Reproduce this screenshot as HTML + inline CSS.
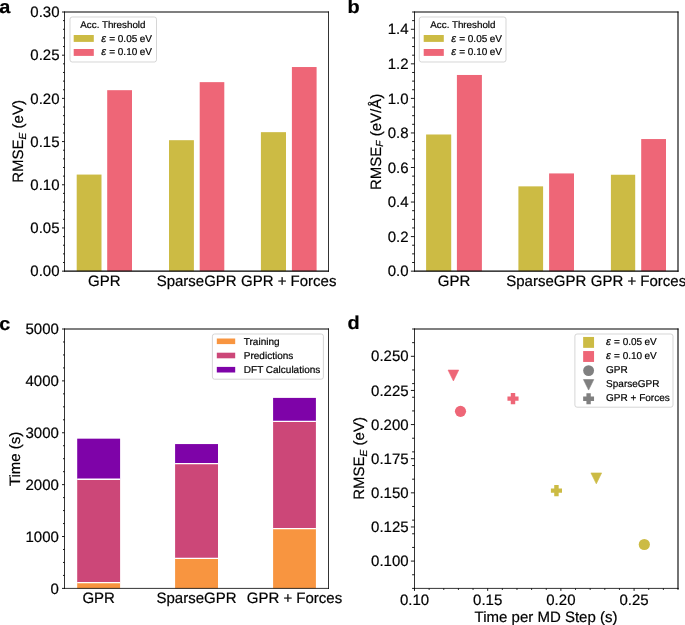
<!DOCTYPE html>
<html><head><meta charset="utf-8"><style>
html,body{margin:0;padding:0;background:#fff;overflow:hidden;width:685px;height:625px;}
svg{display:block;font-family:"Liberation Sans", sans-serif;will-change:transform;}
text{fill:#000;text-rendering:geometricPrecision;stroke:#000;stroke-width:0.2px;}
</style></head><body>
<svg width="685" height="625" viewBox="0 0 685 625">
<rect width="685" height="625" fill="#fff"/>
<rect x="76.70" y="174.57" width="24.80" height="96.58" fill="#CCBB44" />
<rect x="107.20" y="90.18" width="24.80" height="180.97" fill="#EE6677" />
<rect x="169.00" y="140.19" width="24.90" height="130.96" fill="#CCBB44" />
<rect x="199.70" y="82.14" width="24.60" height="189.01" fill="#EE6677" />
<rect x="260.90" y="132.16" width="25.10" height="138.99" fill="#CCBB44" />
<rect x="291.90" y="67.03" width="24.70" height="204.12" fill="#EE6677" />
<rect x="426.10" y="134.49" width="25.10" height="136.66" fill="#CCBB44" />
<rect x="456.90" y="74.97" width="25.00" height="196.18" fill="#EE6677" />
<rect x="518.40" y="186.36" width="24.70" height="84.79" fill="#CCBB44" />
<rect x="549.10" y="173.42" width="24.90" height="97.73" fill="#EE6677" />
<rect x="610.90" y="174.75" width="24.30" height="96.40" fill="#CCBB44" />
<rect x="641.20" y="139.05" width="24.80" height="132.10" fill="#EE6677" />
<rect x="77.20" y="582.69" width="42.90" height="5.71" fill="#F89540" />
<rect x="77.20" y="479.24" width="42.90" height="103.45" fill="#CC4778" />
<rect x="77.20" y="438.67" width="42.90" height="40.57" fill="#7E03A8" />
<line x1="77.20" y1="582.69" x2="120.10" y2="582.69" stroke="#ffffff" stroke-width="1.3"/>
<line x1="77.20" y1="479.24" x2="120.10" y2="479.24" stroke="#ffffff" stroke-width="1.3"/>
<rect x="175.10" y="558.47" width="42.90" height="29.93" fill="#F89540" />
<rect x="175.10" y="463.63" width="42.90" height="94.84" fill="#CC4778" />
<rect x="175.10" y="444.07" width="42.90" height="19.56" fill="#7E03A8" />
<line x1="175.10" y1="558.47" x2="218.00" y2="558.47" stroke="#ffffff" stroke-width="1.3"/>
<line x1="175.10" y1="463.63" x2="218.00" y2="463.63" stroke="#ffffff" stroke-width="1.3"/>
<rect x="273.10" y="528.53" width="42.80" height="59.87" fill="#F89540" />
<rect x="273.10" y="421.45" width="42.80" height="107.08" fill="#CC4778" />
<rect x="273.10" y="397.90" width="42.80" height="23.55" fill="#7E03A8" />
<line x1="273.10" y1="528.53" x2="315.90" y2="528.53" stroke="#ffffff" stroke-width="1.3"/>
<line x1="273.10" y1="421.45" x2="315.90" y2="421.45" stroke="#ffffff" stroke-width="1.3"/>
<line x1="64.10" y1="12.00" x2="329.00" y2="12.00" stroke="#000000" stroke-width="1.1"/>
<line x1="64.10" y1="271.15" x2="329.00" y2="271.15" stroke="#000000" stroke-width="1.1"/>
<line x1="64.50" y1="11.50" x2="64.50" y2="271.65" stroke="#000000" stroke-width="0.8"/>
<line x1="328.50" y1="11.50" x2="328.50" y2="271.65" stroke="#000000" stroke-width="0.8"/>
<line x1="414.10" y1="12.00" x2="678.50" y2="12.00" stroke="#000000" stroke-width="1.1"/>
<line x1="414.10" y1="271.15" x2="678.50" y2="271.15" stroke="#000000" stroke-width="1.1"/>
<line x1="414.50" y1="11.50" x2="414.50" y2="271.65" stroke="#000000" stroke-width="0.8"/>
<line x1="678.00" y1="11.50" x2="678.00" y2="271.65" stroke="#000000" stroke-width="1.1"/>
<line x1="64.10" y1="329.00" x2="329.00" y2="329.00" stroke="#000000" stroke-width="1.1"/>
<line x1="64.10" y1="588.40" x2="329.00" y2="588.40" stroke="#000000" stroke-width="0.8"/>
<line x1="64.50" y1="328.50" x2="64.50" y2="588.90" stroke="#000000" stroke-width="0.8"/>
<line x1="328.50" y1="328.50" x2="328.50" y2="588.90" stroke="#000000" stroke-width="0.8"/>
<line x1="414.10" y1="329.00" x2="678.50" y2="329.00" stroke="#000000" stroke-width="1.1"/>
<line x1="414.10" y1="588.40" x2="678.50" y2="588.40" stroke="#000000" stroke-width="0.8"/>
<line x1="414.50" y1="328.50" x2="414.50" y2="588.90" stroke="#000000" stroke-width="0.8"/>
<line x1="678.00" y1="328.50" x2="678.00" y2="588.90" stroke="#000000" stroke-width="1.1"/>
<line x1="63.00" y1="262.51" x2="64.50" y2="262.51" stroke="#000000" stroke-width="0.9"/>
<line x1="63.00" y1="253.87" x2="64.50" y2="253.87" stroke="#000000" stroke-width="0.9"/>
<line x1="63.00" y1="245.23" x2="64.50" y2="245.23" stroke="#000000" stroke-width="0.9"/>
<line x1="63.00" y1="236.60" x2="64.50" y2="236.60" stroke="#000000" stroke-width="0.9"/>
<line x1="63.00" y1="219.32" x2="64.50" y2="219.32" stroke="#000000" stroke-width="0.9"/>
<line x1="63.00" y1="210.68" x2="64.50" y2="210.68" stroke="#000000" stroke-width="0.9"/>
<line x1="63.00" y1="202.04" x2="64.50" y2="202.04" stroke="#000000" stroke-width="0.9"/>
<line x1="63.00" y1="193.40" x2="64.50" y2="193.40" stroke="#000000" stroke-width="0.9"/>
<line x1="63.00" y1="176.13" x2="64.50" y2="176.13" stroke="#000000" stroke-width="0.9"/>
<line x1="63.00" y1="167.49" x2="64.50" y2="167.49" stroke="#000000" stroke-width="0.9"/>
<line x1="63.00" y1="158.85" x2="64.50" y2="158.85" stroke="#000000" stroke-width="0.9"/>
<line x1="63.00" y1="150.21" x2="64.50" y2="150.21" stroke="#000000" stroke-width="0.9"/>
<line x1="63.00" y1="132.94" x2="64.50" y2="132.94" stroke="#000000" stroke-width="0.9"/>
<line x1="63.00" y1="124.30" x2="64.50" y2="124.30" stroke="#000000" stroke-width="0.9"/>
<line x1="63.00" y1="115.66" x2="64.50" y2="115.66" stroke="#000000" stroke-width="0.9"/>
<line x1="63.00" y1="107.02" x2="64.50" y2="107.02" stroke="#000000" stroke-width="0.9"/>
<line x1="63.00" y1="89.74" x2="64.50" y2="89.74" stroke="#000000" stroke-width="0.9"/>
<line x1="63.00" y1="81.11" x2="64.50" y2="81.11" stroke="#000000" stroke-width="0.9"/>
<line x1="63.00" y1="72.47" x2="64.50" y2="72.47" stroke="#000000" stroke-width="0.9"/>
<line x1="63.00" y1="63.83" x2="64.50" y2="63.83" stroke="#000000" stroke-width="0.9"/>
<line x1="63.00" y1="46.55" x2="64.50" y2="46.55" stroke="#000000" stroke-width="0.9"/>
<line x1="63.00" y1="37.91" x2="64.50" y2="37.91" stroke="#000000" stroke-width="0.9"/>
<line x1="63.00" y1="29.28" x2="64.50" y2="29.28" stroke="#000000" stroke-width="0.9"/>
<line x1="63.00" y1="20.64" x2="64.50" y2="20.64" stroke="#000000" stroke-width="0.9"/>
<line x1="62.00" y1="271.15" x2="64.50" y2="271.15" stroke="#000000" stroke-width="0.9"/>
<text x="59.50" y="276.30" font-size="15" text-anchor="end" >0.00</text>
<line x1="62.00" y1="227.96" x2="64.50" y2="227.96" stroke="#000000" stroke-width="0.9"/>
<text x="59.50" y="233.11" font-size="15" text-anchor="end" >0.05</text>
<line x1="62.00" y1="184.77" x2="64.50" y2="184.77" stroke="#000000" stroke-width="0.9"/>
<text x="59.50" y="189.92" font-size="15" text-anchor="end" >0.10</text>
<line x1="62.00" y1="141.57" x2="64.50" y2="141.57" stroke="#000000" stroke-width="0.9"/>
<text x="59.50" y="146.72" font-size="15" text-anchor="end" >0.15</text>
<line x1="62.00" y1="98.38" x2="64.50" y2="98.38" stroke="#000000" stroke-width="0.9"/>
<text x="59.50" y="103.53" font-size="15" text-anchor="end" >0.20</text>
<line x1="62.00" y1="55.19" x2="64.50" y2="55.19" stroke="#000000" stroke-width="0.9"/>
<text x="59.50" y="60.34" font-size="15" text-anchor="end" >0.25</text>
<line x1="62.00" y1="12.00" x2="64.50" y2="12.00" stroke="#000000" stroke-width="0.9"/>
<text x="59.50" y="17.15" font-size="15" text-anchor="end" >0.30</text>
<line x1="412.10" y1="262.51" x2="414.50" y2="262.51" stroke="#000000" stroke-width="0.9"/>
<line x1="412.10" y1="253.87" x2="414.50" y2="253.87" stroke="#000000" stroke-width="0.9"/>
<line x1="412.10" y1="245.23" x2="414.50" y2="245.23" stroke="#000000" stroke-width="0.9"/>
<line x1="412.10" y1="227.96" x2="414.50" y2="227.96" stroke="#000000" stroke-width="0.9"/>
<line x1="412.10" y1="219.32" x2="414.50" y2="219.32" stroke="#000000" stroke-width="0.9"/>
<line x1="412.10" y1="210.68" x2="414.50" y2="210.68" stroke="#000000" stroke-width="0.9"/>
<line x1="412.10" y1="193.40" x2="414.50" y2="193.40" stroke="#000000" stroke-width="0.9"/>
<line x1="412.10" y1="184.77" x2="414.50" y2="184.77" stroke="#000000" stroke-width="0.9"/>
<line x1="412.10" y1="176.13" x2="414.50" y2="176.13" stroke="#000000" stroke-width="0.9"/>
<line x1="412.10" y1="158.85" x2="414.50" y2="158.85" stroke="#000000" stroke-width="0.9"/>
<line x1="412.10" y1="150.21" x2="414.50" y2="150.21" stroke="#000000" stroke-width="0.9"/>
<line x1="412.10" y1="141.57" x2="414.50" y2="141.57" stroke="#000000" stroke-width="0.9"/>
<line x1="412.10" y1="124.30" x2="414.50" y2="124.30" stroke="#000000" stroke-width="0.9"/>
<line x1="412.10" y1="115.66" x2="414.50" y2="115.66" stroke="#000000" stroke-width="0.9"/>
<line x1="412.10" y1="107.02" x2="414.50" y2="107.02" stroke="#000000" stroke-width="0.9"/>
<line x1="412.10" y1="89.74" x2="414.50" y2="89.74" stroke="#000000" stroke-width="0.9"/>
<line x1="412.10" y1="81.11" x2="414.50" y2="81.11" stroke="#000000" stroke-width="0.9"/>
<line x1="412.10" y1="72.47" x2="414.50" y2="72.47" stroke="#000000" stroke-width="0.9"/>
<line x1="412.10" y1="55.19" x2="414.50" y2="55.19" stroke="#000000" stroke-width="0.9"/>
<line x1="412.10" y1="46.55" x2="414.50" y2="46.55" stroke="#000000" stroke-width="0.9"/>
<line x1="412.10" y1="37.91" x2="414.50" y2="37.91" stroke="#000000" stroke-width="0.9"/>
<line x1="412.10" y1="20.64" x2="414.50" y2="20.64" stroke="#000000" stroke-width="0.9"/>
<line x1="412.10" y1="12.00" x2="414.50" y2="12.00" stroke="#000000" stroke-width="0.9"/>
<line x1="410.90" y1="271.15" x2="414.50" y2="271.15" stroke="#000000" stroke-width="0.9"/>
<text x="408.60" y="276.30" font-size="15" text-anchor="end" >0.0</text>
<line x1="410.90" y1="236.60" x2="414.50" y2="236.60" stroke="#000000" stroke-width="0.9"/>
<text x="408.60" y="241.75" font-size="15" text-anchor="end" >0.2</text>
<line x1="410.90" y1="202.04" x2="414.50" y2="202.04" stroke="#000000" stroke-width="0.9"/>
<text x="408.60" y="207.19" font-size="15" text-anchor="end" >0.4</text>
<line x1="410.90" y1="167.49" x2="414.50" y2="167.49" stroke="#000000" stroke-width="0.9"/>
<text x="408.60" y="172.64" font-size="15" text-anchor="end" >0.6</text>
<line x1="410.90" y1="132.94" x2="414.50" y2="132.94" stroke="#000000" stroke-width="0.9"/>
<text x="408.60" y="138.09" font-size="15" text-anchor="end" >0.8</text>
<line x1="410.90" y1="98.38" x2="414.50" y2="98.38" stroke="#000000" stroke-width="0.9"/>
<text x="408.60" y="103.53" font-size="15" text-anchor="end" >1.0</text>
<line x1="410.90" y1="63.83" x2="414.50" y2="63.83" stroke="#000000" stroke-width="0.9"/>
<text x="408.60" y="68.98" font-size="15" text-anchor="end" >1.2</text>
<line x1="410.90" y1="29.28" x2="414.50" y2="29.28" stroke="#000000" stroke-width="0.9"/>
<text x="408.60" y="34.43" font-size="15" text-anchor="end" >1.4</text>
<line x1="63.00" y1="575.43" x2="64.50" y2="575.43" stroke="#000000" stroke-width="0.9"/>
<line x1="63.00" y1="562.46" x2="64.50" y2="562.46" stroke="#000000" stroke-width="0.9"/>
<line x1="63.00" y1="549.49" x2="64.50" y2="549.49" stroke="#000000" stroke-width="0.9"/>
<line x1="63.00" y1="523.55" x2="64.50" y2="523.55" stroke="#000000" stroke-width="0.9"/>
<line x1="63.00" y1="510.58" x2="64.50" y2="510.58" stroke="#000000" stroke-width="0.9"/>
<line x1="63.00" y1="497.61" x2="64.50" y2="497.61" stroke="#000000" stroke-width="0.9"/>
<line x1="63.00" y1="471.67" x2="64.50" y2="471.67" stroke="#000000" stroke-width="0.9"/>
<line x1="63.00" y1="458.70" x2="64.50" y2="458.70" stroke="#000000" stroke-width="0.9"/>
<line x1="63.00" y1="445.73" x2="64.50" y2="445.73" stroke="#000000" stroke-width="0.9"/>
<line x1="63.00" y1="419.79" x2="64.50" y2="419.79" stroke="#000000" stroke-width="0.9"/>
<line x1="63.00" y1="406.82" x2="64.50" y2="406.82" stroke="#000000" stroke-width="0.9"/>
<line x1="63.00" y1="393.85" x2="64.50" y2="393.85" stroke="#000000" stroke-width="0.9"/>
<line x1="63.00" y1="367.91" x2="64.50" y2="367.91" stroke="#000000" stroke-width="0.9"/>
<line x1="63.00" y1="354.94" x2="64.50" y2="354.94" stroke="#000000" stroke-width="0.9"/>
<line x1="63.00" y1="341.97" x2="64.50" y2="341.97" stroke="#000000" stroke-width="0.9"/>
<line x1="62.00" y1="588.40" x2="64.50" y2="588.40" stroke="#000000" stroke-width="0.9"/>
<text x="58.90" y="593.55" font-size="15" text-anchor="end" >0</text>
<line x1="62.00" y1="536.52" x2="64.50" y2="536.52" stroke="#000000" stroke-width="0.9"/>
<text x="58.90" y="541.67" font-size="15" text-anchor="end" >1000</text>
<line x1="62.00" y1="484.64" x2="64.50" y2="484.64" stroke="#000000" stroke-width="0.9"/>
<text x="58.90" y="489.79" font-size="15" text-anchor="end" >2000</text>
<line x1="62.00" y1="432.76" x2="64.50" y2="432.76" stroke="#000000" stroke-width="0.9"/>
<text x="58.90" y="437.91" font-size="15" text-anchor="end" >3000</text>
<line x1="62.00" y1="380.88" x2="64.50" y2="380.88" stroke="#000000" stroke-width="0.9"/>
<text x="58.90" y="386.03" font-size="15" text-anchor="end" >4000</text>
<line x1="62.00" y1="329.00" x2="64.50" y2="329.00" stroke="#000000" stroke-width="0.9"/>
<text x="58.90" y="334.15" font-size="15" text-anchor="end" >5000</text>
<line x1="412.10" y1="588.40" x2="414.50" y2="588.40" stroke="#000000" stroke-width="0.9"/>
<line x1="412.10" y1="574.75" x2="414.50" y2="574.75" stroke="#000000" stroke-width="0.9"/>
<line x1="412.10" y1="547.44" x2="414.50" y2="547.44" stroke="#000000" stroke-width="0.9"/>
<line x1="412.10" y1="533.79" x2="414.50" y2="533.79" stroke="#000000" stroke-width="0.9"/>
<line x1="412.10" y1="520.14" x2="414.50" y2="520.14" stroke="#000000" stroke-width="0.9"/>
<line x1="412.10" y1="506.48" x2="414.50" y2="506.48" stroke="#000000" stroke-width="0.9"/>
<line x1="412.10" y1="479.18" x2="414.50" y2="479.18" stroke="#000000" stroke-width="0.9"/>
<line x1="412.10" y1="465.53" x2="414.50" y2="465.53" stroke="#000000" stroke-width="0.9"/>
<line x1="412.10" y1="451.87" x2="414.50" y2="451.87" stroke="#000000" stroke-width="0.9"/>
<line x1="412.10" y1="438.22" x2="414.50" y2="438.22" stroke="#000000" stroke-width="0.9"/>
<line x1="412.10" y1="410.92" x2="414.50" y2="410.92" stroke="#000000" stroke-width="0.9"/>
<line x1="412.10" y1="397.26" x2="414.50" y2="397.26" stroke="#000000" stroke-width="0.9"/>
<line x1="412.10" y1="383.61" x2="414.50" y2="383.61" stroke="#000000" stroke-width="0.9"/>
<line x1="412.10" y1="369.96" x2="414.50" y2="369.96" stroke="#000000" stroke-width="0.9"/>
<line x1="412.10" y1="342.65" x2="414.50" y2="342.65" stroke="#000000" stroke-width="0.9"/>
<line x1="412.10" y1="329.00" x2="414.50" y2="329.00" stroke="#000000" stroke-width="0.9"/>
<line x1="410.90" y1="561.09" x2="414.50" y2="561.09" stroke="#000000" stroke-width="0.9"/>
<text x="408.60" y="566.24" font-size="15" text-anchor="end" >0.100</text>
<line x1="410.90" y1="526.96" x2="414.50" y2="526.96" stroke="#000000" stroke-width="0.9"/>
<text x="408.60" y="532.11" font-size="15" text-anchor="end" >0.125</text>
<line x1="410.90" y1="492.83" x2="414.50" y2="492.83" stroke="#000000" stroke-width="0.9"/>
<text x="408.60" y="497.98" font-size="15" text-anchor="end" >0.150</text>
<line x1="410.90" y1="458.70" x2="414.50" y2="458.70" stroke="#000000" stroke-width="0.9"/>
<text x="408.60" y="463.85" font-size="15" text-anchor="end" >0.175</text>
<line x1="410.90" y1="424.57" x2="414.50" y2="424.57" stroke="#000000" stroke-width="0.9"/>
<text x="408.60" y="429.72" font-size="15" text-anchor="end" >0.200</text>
<line x1="410.90" y1="390.44" x2="414.50" y2="390.44" stroke="#000000" stroke-width="0.9"/>
<text x="408.60" y="395.59" font-size="15" text-anchor="end" >0.225</text>
<line x1="410.90" y1="356.31" x2="414.50" y2="356.31" stroke="#000000" stroke-width="0.9"/>
<text x="408.60" y="361.46" font-size="15" text-anchor="end" >0.250</text>
<line x1="429.14" y1="588.40" x2="429.14" y2="589.90" stroke="#000000" stroke-width="0.9"/>
<line x1="443.78" y1="588.40" x2="443.78" y2="589.90" stroke="#000000" stroke-width="0.9"/>
<line x1="458.42" y1="588.40" x2="458.42" y2="589.90" stroke="#000000" stroke-width="0.9"/>
<line x1="473.06" y1="588.40" x2="473.06" y2="589.90" stroke="#000000" stroke-width="0.9"/>
<line x1="502.33" y1="588.40" x2="502.33" y2="589.90" stroke="#000000" stroke-width="0.9"/>
<line x1="516.97" y1="588.40" x2="516.97" y2="589.90" stroke="#000000" stroke-width="0.9"/>
<line x1="531.61" y1="588.40" x2="531.61" y2="589.90" stroke="#000000" stroke-width="0.9"/>
<line x1="546.25" y1="588.40" x2="546.25" y2="589.90" stroke="#000000" stroke-width="0.9"/>
<line x1="575.53" y1="588.40" x2="575.53" y2="589.90" stroke="#000000" stroke-width="0.9"/>
<line x1="590.17" y1="588.40" x2="590.17" y2="589.90" stroke="#000000" stroke-width="0.9"/>
<line x1="604.81" y1="588.40" x2="604.81" y2="589.90" stroke="#000000" stroke-width="0.9"/>
<line x1="619.44" y1="588.40" x2="619.44" y2="589.90" stroke="#000000" stroke-width="0.9"/>
<line x1="648.72" y1="588.40" x2="648.72" y2="589.90" stroke="#000000" stroke-width="0.9"/>
<line x1="663.36" y1="588.40" x2="663.36" y2="589.90" stroke="#000000" stroke-width="0.9"/>
<line x1="678.00" y1="588.40" x2="678.00" y2="589.90" stroke="#000000" stroke-width="0.9"/>
<line x1="414.50" y1="588.40" x2="414.50" y2="590.90" stroke="#000000" stroke-width="0.9"/>
<text x="414.50" y="604.90" font-size="15" text-anchor="middle" >0.10</text>
<line x1="487.69" y1="588.40" x2="487.69" y2="590.90" stroke="#000000" stroke-width="0.9"/>
<text x="487.69" y="604.90" font-size="15" text-anchor="middle" >0.15</text>
<line x1="560.89" y1="588.40" x2="560.89" y2="590.90" stroke="#000000" stroke-width="0.9"/>
<text x="560.89" y="604.90" font-size="15" text-anchor="middle" >0.20</text>
<line x1="634.08" y1="588.40" x2="634.08" y2="590.90" stroke="#000000" stroke-width="0.9"/>
<text x="634.08" y="604.90" font-size="15" text-anchor="middle" >0.25</text>
<text x="104.35" y="285.80" font-size="15" text-anchor="middle" >GPR</text>
<text x="196.65" y="285.80" font-size="15" text-anchor="middle" >SparseGPR</text>
<text x="288.75" y="285.80" font-size="15" text-anchor="middle" >GPR + Forces</text>
<text x="454.00" y="285.80" font-size="15" text-anchor="middle" >GPR</text>
<text x="546.25" y="285.80" font-size="15" text-anchor="middle" >SparseGPR</text>
<text x="638.45" y="285.80" font-size="15" text-anchor="middle" >GPR + Forces</text>
<text x="98.65" y="603.20" font-size="15" text-anchor="middle" >GPR</text>
<text x="196.55" y="603.20" font-size="15" text-anchor="middle" >SparseGPR</text>
<text x="294.50" y="603.20" font-size="15" text-anchor="middle" >GPR + Forces</text>
<text transform="translate(23.20,141.40) rotate(-90)" font-size="15" text-anchor="middle">RMSE<tspan font-size="10.2" font-style="italic" dy="2.6">E</tspan><tspan dy="-2.6">&#160;(eV)</tspan></text>
<text transform="translate(380.80,141.90) rotate(-90)" font-size="15" text-anchor="middle">RMSE<tspan font-size="10.2" font-style="italic" dy="2.6">F</tspan><tspan dy="-2.6">&#160;(eV/Å)</tspan></text>
<text transform="translate(19.90,458.90) rotate(-90)" font-size="15" text-anchor="middle">Time (s)</text>
<text transform="translate(364.00,458.40) rotate(-90)" font-size="15" text-anchor="middle">RMSE<tspan font-size="10.2" font-style="italic" dy="2.6">E</tspan><tspan dy="-2.6">&#160;(eV)</tspan></text>
<text x="546.00" y="621.70" font-size="15" text-anchor="middle" >Time per MD Step (s)</text>
<text transform="translate(-0.70,12.90) scale(1.07,1)" font-size="18.6" font-weight="bold">a</text>
<text transform="translate(347.60,12.90) scale(1.07,1)" font-size="18.6" font-weight="bold">b</text>
<text transform="translate(-0.70,329.50) scale(1.07,1)" font-size="18.6" font-weight="bold">c</text>
<text transform="translate(347.40,329.10) scale(1.07,1)" font-size="18.6" font-weight="bold">d</text>
<rect x="70.00" y="17.00" width="86.50" height="45.00" rx="2.2" fill="#ffffff" fill-opacity="0.8" stroke="#cccccc" stroke-opacity="0.8" stroke-width="1"/>
<text x="112.90" y="27.70" font-size="9.8" text-anchor="middle" >Acc. Threshold</text>
<rect x="73.70" y="35.00" width="20.10" height="6.90" fill="#CCBB44" />
<rect x="73.70" y="49.00" width="20.10" height="6.90" fill="#EE6677" />
<text x="101.20" y="41.50" font-size="10"><tspan font-style="italic" font-size="11.00">ε</tspan><tspan x="109.20" font-size="10">=</tspan><tspan x="117.80">0.05</tspan><tspan x="139.65">eV</tspan></text>
<text x="101.20" y="55.40" font-size="10"><tspan font-style="italic" font-size="11.00">ε</tspan><tspan x="109.20" font-size="10">=</tspan><tspan x="117.80">0.10</tspan><tspan x="139.65">eV</tspan></text>
<rect x="419.30" y="17.00" width="86.70" height="45.00" rx="2.2" fill="#ffffff" fill-opacity="0.8" stroke="#cccccc" stroke-opacity="0.8" stroke-width="1"/>
<text x="462.90" y="27.70" font-size="9.8" text-anchor="middle" >Acc. Threshold</text>
<rect x="423.70" y="35.00" width="20.10" height="6.90" fill="#CCBB44" />
<rect x="423.70" y="49.00" width="20.10" height="6.90" fill="#EE6677" />
<text x="451.20" y="41.50" font-size="10"><tspan font-style="italic" font-size="11.00">ε</tspan><tspan x="459.20" font-size="10">=</tspan><tspan x="467.80">0.05</tspan><tspan x="489.65">eV</tspan></text>
<text x="451.20" y="55.40" font-size="10"><tspan font-style="italic" font-size="11.00">ε</tspan><tspan x="459.20" font-size="10">=</tspan><tspan x="467.80">0.10</tspan><tspan x="489.65">eV</tspan></text>
<rect x="212.40" y="334.00" width="111.00" height="45.20" rx="2.2" fill="#ffffff" fill-opacity="0.8" stroke="#cccccc" stroke-opacity="0.8" stroke-width="1"/>
<rect x="216.80" y="338.50" width="18.40" height="5.60" fill="#F89540" />
<text x="243.80" y="344.80" font-size="10" text-anchor="start" >Training</text>
<rect x="216.80" y="352.70" width="18.40" height="5.60" fill="#CC4778" />
<text x="243.80" y="358.90" font-size="10" text-anchor="start" >Predictions</text>
<rect x="216.80" y="366.90" width="18.40" height="5.60" fill="#7E03A8" />
<text x="243.80" y="373.00" font-size="10" text-anchor="start" >DFT Calculations</text>
<rect x="574.90" y="334.00" width="98.10" height="73.20" rx="2.2" fill="#ffffff" fill-opacity="0.8" stroke="#cccccc" stroke-opacity="0.8" stroke-width="1"/>
<rect x="583.15" y="336.95" width="10.90" height="10.90" fill="#CCBB44" />
<text x="606.10" y="344.50" font-size="10"><tspan font-style="italic" font-size="11.00">ε</tspan><tspan x="614.10" font-size="10">=</tspan><tspan x="622.70">0.05</tspan><tspan x="644.55">eV</tspan></text>
<rect x="583.15" y="351.05" width="10.90" height="10.90" fill="#EE6677" />
<text x="606.10" y="358.60" font-size="10"><tspan font-style="italic" font-size="11.00">ε</tspan><tspan x="614.10" font-size="10">=</tspan><tspan x="622.70">0.10</tspan><tspan x="644.55">eV</tspan></text>
<text x="606.10" y="372.70" font-size="10" text-anchor="start" >GPR</text>
<text x="606.10" y="386.80" font-size="10" text-anchor="start" >SparseGPR</text>
<text x="606.10" y="400.90" font-size="10" text-anchor="start" >GPR + Forces</text>
<circle cx="588.60" cy="370.60" r="5.45" fill="#808080"/>
<polygon points="583.45,379.55 593.75,379.55 588.60,390.05" fill="#808080" stroke="#808080" stroke-width="0.6" stroke-linejoin="round"/>
<polygon points="586.42,393.35 590.78,393.35 590.78,396.62 594.05,396.62 594.05,400.98 590.78,400.98 590.78,404.25 586.42,404.25 586.42,400.98 583.15,400.98 583.15,396.62 586.42,396.62" fill="#808080"/>
<polygon points="448.05,370.05 458.75,370.05 453.40,380.95" fill="#EE6677" stroke="#EE6677" stroke-width="0.6" stroke-linejoin="round"/>
<circle cx="460.50" cy="411.35" r="5.60" fill="#EE6677"/>
<polygon points="510.78,393.05 515.22,393.05 515.22,396.38 518.55,396.38 518.55,400.82 515.22,400.82 515.22,404.15 510.78,404.15 510.78,400.82 507.45,400.82 507.45,396.38 510.78,396.38" fill="#EE6677"/>
<polygon points="554.23,485.05 558.67,485.05 558.67,488.38 562.00,488.38 562.00,492.82 558.67,492.82 558.67,496.15 554.23,496.15 554.23,492.82 550.90,492.82 550.90,488.38 554.23,488.38" fill="#CCBB44"/>
<polygon points="590.95,472.95 601.65,472.95 596.30,483.85" fill="#CCBB44" stroke="#CCBB44" stroke-width="0.6" stroke-linejoin="round"/>
<circle cx="644.30" cy="544.50" r="5.60" fill="#CCBB44"/>
</svg></body></html>
